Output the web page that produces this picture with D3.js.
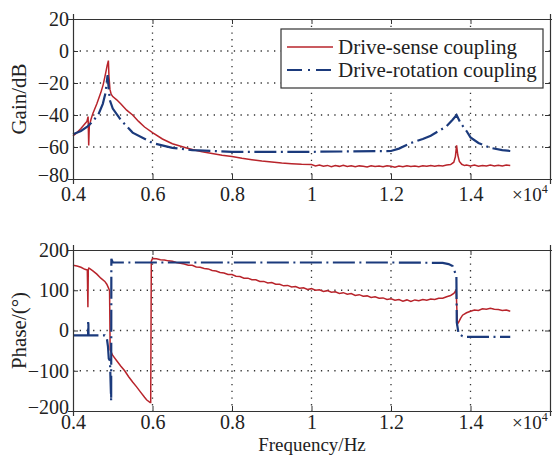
<!DOCTYPE html>
<html>
<head>
<meta charset="utf-8">
<script src="https://cdn.jsdelivr.net/npm/d3@7"></script>
<style>
  body { margin: 0; background: #fff; }
  text { font-family: "Liberation Serif", "DejaVu Serif", serif; fill: #222; }
</style>
</head>
<body>
<svg id="chart" width="552" height="457"></svg>
<script>
// x ticks, in units of 10^4 Hz
const freqTicks = [0.4, 0.6, 0.8, 1.0, 1.2, 1.4];
const gainTicks = [20, 0, -20, -40, -60, -80];
const phaseTicks = [200, 100, 0, -100, -200];
const seriesNames = ["Drive-sense coupling", "Drive-rotation coupling"];

// Drive-sense coupling, gain (Hz, dB)
const senseGainHz = [4000, 4100, 4200, 4300, 4350, 4380, 4395, 4410, 4450, 4500, 4600, 4700, 4760, 4820, 4860, 4890, 4905, 4930, 4960, 5000, 5100, 5200, 5350, 5500, 5650, 5800, 6000, 6250, 6500, 6860, 7000, 7250, 7500, 7750, 8000, 8250, 8500, 8750, 9000, 9250, 9500, 9750,
  10000, 10100, 10200, 10300, 10400, 10500, 10600, 10700, 10800, 10900, 11000, 11100, 11200, 11300, 11400, 11500, 11600, 11700, 11800, 11900, 12000, 12100, 12200, 12300, 12400, 12500, 12600, 12700, 12800, 12900, 13000, 13100, 13200, 13300, 13400, 13500, 13580, 13620, 13650, 13680, 13720, 13780, 13850, 13900, 14000, 14100, 14200, 14300, 14400, 14500, 14600, 14700, 14800, 14900, 15000];
const senseGainDb = [-53, -51, -48.5, -45.5, -44, -41, -59, -47, -43, -39, -33, -26, -21, -14, -9, -6, -16, -24, -27, -28.5, -30.5, -33, -37, -40, -44, -47.5, -51, -55, -58, -60.6, -61.5, -63, -64, -65.2, -66, -67.1, -67.9, -68.8, -69.4, -70, -70.4, -70.8,
  -71, -71.8, -71.2, -72, -71.5, -72.3, -71.6, -72.1, -71.4, -72.2, -71.7, -72.4, -71.8, -72, -72.5, -71.7, -72.2, -71.9, -72.4, -71.8, -72.1, -72.6, -71.9, -72.3, -71.7, -72.2, -71.9, -72.4, -71.8, -72.1, -71.6, -72, -71.5, -71.8, -71.2, -71, -69.5, -66, -59, -65, -69, -70.8, -71.6, -71.2, -71.8, -71.3, -72, -71.5, -71.9, -71.2, -71.8, -71.4, -71.9, -71.3, -71.6];

// Drive-rotation coupling, gain
const rotGainHz = [4000, 4200, 4350, 4500, 4650, 4750, 4820, 4870, 4900, 4930, 5000, 5200, 5500, 6000, 6500, 7000, 8000, 10000, 12000, 12200, 12500, 12800, 13000, 13200, 13400, 13550, 13650, 13750, 13900, 14000, 14200, 14500, 14800, 15000];
const rotGainDb = [-52, -50, -47.5, -44, -39, -33, -26, -15, -24, -31, -36, -43, -51, -57.5, -60.5, -62, -63, -63, -62.5, -61, -57.5, -55, -53, -50, -47, -43, -40, -45, -50, -54, -57.5, -60.5, -62, -62.5];

// Drive-sense coupling, phase (Hz, deg)
const sensePhaseHz = [4000, 4100, 4200, 4300, 4360, 4375, 4385, 4400, 4430, 4500, 4600, 4700, 4800, 4850, 4900, 4920, 4935, 5000, 5100, 5200, 5300, 5400, 5500, 5600, 5700, 5800, 5850, 5940, 5955, 5970,
  6000, 6100, 6200, 6300, 6400, 6500, 6600, 6700, 6800, 6900, 7000, 7100, 7200, 7300, 7400, 7500, 7600, 7700, 7800, 7900, 8000, 8100, 8200, 8300, 8400, 8500, 8600, 8700, 8800, 8900, 9000, 9100, 9200, 9300, 9400, 9500, 9600, 9700, 9800, 9900,
  10000, 10100, 10200, 10300, 10400, 10500, 10600, 10700, 10800, 10900, 11000, 11100, 11200, 11300, 11400, 11500, 11600, 11700, 11800, 11900, 12000, 12100, 12200, 12300, 12400, 12500, 12600, 12700, 12800, 12900, 13000, 13100, 13200, 13300, 13400, 13500, 13580, 13640, 13670, 13700, 13750, 13800, 13900, 14000, 14100, 14200, 14300, 14400, 14500, 14600, 14700, 14800, 14900, 15000];
const sensePhaseDeg = [162, 160, 157, 152, 150, 58, 152, 155, 153, 148, 140, 130, 122, 115, 104, 98, -48, -62, -75, -88, -100, -115, -128, -140, -153, -166, -172, -179, -179, 172,
  179, 178, 176, 175, 173, 172, 169, 167, 165, 162, 162, 158, 157, 154, 153, 149, 148, 144, 143, 139, 139, 135, 134, 130, 130, 126, 126, 122, 122, 118, 119, 115, 115, 111, 112, 108, 109, 105, 106, 102,
  104, 100, 101, 97, 99, 95, 96, 92, 94, 90, 92, 87, 89, 85, 86, 82, 84, 80, 81, 77, 79, 75, 77, 73, 76, 72, 76, 74, 77, 75, 78, 77, 80, 80, 84, 87, 92, 100, 16, 20, 30, 38, 44, 48, 51, 50, 54, 53, 55, 53, 52, 50, 51, 48];

// Drive-rotation coupling, phase
const rotPhaseHz = [4000, 4380, 4382, 4386, 4390, 4800, 4850, 4880, 4900, 4930, 4960, 4965, 5000, 6000, 8000, 10000, 12000, 13300, 13450, 13550, 13620, 13645, 13655, 13700, 13800, 13900, 15000];
const rotPhaseDeg = [-12, -12, 25, 25, -12, -12, -18, -40, -70, -75, -176, 178, 169, 169, 169, 169, 169, 168, 165, 160, 142, 136, 20, -8, -14, -16, -16];

const svg = d3.select("#chart");
const left = 73, right = 550;
const colors = ["#b8242b", "#1b3a7c"];
const dashRot = "22,4.5,2,4.5";

const x = d3.scaleLinear().domain([4000, 16000]).range([left, right]);

function drawPanel(top, bottom, yDomain, yTicks, label, series, xLabelGap) {
  const y = d3.scaleLinear().domain(yDomain).range([bottom, top]);
  const g = svg.append("g");

  // dotted grid
  const gridX = freqTicks.slice(1).map(t => t * 1e4);
  g.selectAll(".gx").data(gridX).enter().append("line")
    .attr("x1", d => x(d)).attr("x2", d => x(d))
    .attr("y1", top).attr("y2", bottom)
    .attr("stroke", "#333").attr("stroke-width", 1.3)
    .attr("stroke-dasharray", "1.3,5.4");
  g.selectAll(".gy").data(yTicks.slice(1, -1)).enter().append("line")
    .attr("x1", left).attr("x2", right)
    .attr("y1", d => y(d)).attr("y2", d => y(d))
    .attr("stroke", "#333").attr("stroke-width", 1.3)
    .attr("stroke-dasharray", "1.3,5.4");

  // series
  series.forEach((s, i) => {
    const pts = s.hz.map((h, k) => [h, s.v[k]]);
    g.append("path")
      .attr("d", d3.line().x(d => x(d[0])).y(d => y(d[1]))(pts))
      .attr("fill", "none")
      .attr("stroke", colors[i])
      .attr("stroke-width", i === 0 ? 1.5 : 2.2)
      .attr("stroke-dasharray", i === 0 ? null : dashRot);
  });

  // box with inner ticks on all sides
  const ax = d3.axisBottom(x).tickValues(freqTicks.map(t => t * 1e4))
    .tickSize(5).tickFormat(d => d3.format("~g")(d / 1e4));
  const axB = g.append("g").attr("transform", `translate(0,${bottom})`).call(ax);
  axB.selectAll(".tick line").attr("y2", -5);
  axB.selectAll(".tick text").attr("y", xLabelGap).attr("dy", "0.71em");
  const axT = g.append("g").attr("transform", `translate(0,${top})`)
    .call(d3.axisTop(x).tickValues(freqTicks.map(t => t * 1e4)).tickSize(5).tickFormat(""));
  axT.selectAll(".tick line").attr("y2", 5);
  const axL = g.append("g").attr("transform", `translate(${left},0)`)
    .call(d3.axisLeft(y).tickValues(yTicks).tickSize(5).tickFormat(d => d < 0 ? "\u2212" + Math.abs(d) : d));
  axL.selectAll(".tick line").attr("x2", 5);
  axL.selectAll(".tick text").attr("x", -4);
  const axR = g.append("g").attr("transform", `translate(${right},0)`)
    .call(d3.axisRight(y).tickValues(yTicks).tickSize(5).tickFormat(""));
  axR.selectAll(".tick line").attr("x2", -5);

  [axB, axT, axL, axR].forEach(a => {
    a.select(".domain").attr("stroke", "#333").attr("stroke-width", 1.2);
    a.selectAll(".tick line").attr("stroke", "#333");
    a.selectAll(".tick text").attr("font-size", 20).attr("font-family", "Liberation Serif")
      .attr("fill", "#222");
  });
  // lowest y label sits a little higher so it clears the first x label
  axL.selectAll(".tick text").filter(d => d === yTicks[yTicks.length - 1]).attr("dy", "0.1em");

  g.append("text").attr("x", right - 38).attr("y", bottom + 14 + xLabelGap)
    .attr("font-size", 19).text("\u00d710").append("tspan")
    .attr("font-size", 12).attr("dy", -8).text("4");

  g.append("text")
    .attr("transform", `translate(26,${(top + bottom) / 2}) rotate(-90)`)
    .attr("text-anchor", "middle").attr("font-size", 21).text(label);
  return y;
}

drawPanel(19, 179, [-80, 20], gainTicks, "Gain/dB", [
  { hz: senseGainHz, v: senseGainDb },
  { hz: rotGainHz, v: rotGainDb }
], 8);
drawPanel(250, 411, [-200, 200], phaseTicks, "Phase/(\u00b0)", [
  { hz: sensePhaseHz, v: sensePhaseDeg },
  { hz: rotPhaseHz, v: rotPhaseDeg }
], 4);

svg.append("text").attr("x", 312).attr("y", 451).attr("text-anchor", "middle")
  .attr("font-size", 19).text("Frequency/Hz");

// legend
const lg = svg.append("g").attr("transform", "translate(281,29)");
lg.append("rect").attr("width", 262).attr("height", 59)
  .attr("fill", "#fff").attr("stroke", "#333").attr("stroke-width", 1.2);
seriesNames.forEach((name, i) => {
  const yy = 18 + i * 23;
  lg.append("line").attr("x1", 6).attr("x2", 52).attr("y1", yy).attr("y2", yy)
    .attr("stroke", colors[i]).attr("stroke-width", i === 0 ? 1.5 : 2.2)
    .attr("stroke-dasharray", i === 0 ? null : "15,6,2,6");
  lg.append("text").attr("x", 57).attr("y", yy).attr("dy", "0.35em")
    .attr("font-size", 21).text(name);
});
</script>
</body>
</html>
